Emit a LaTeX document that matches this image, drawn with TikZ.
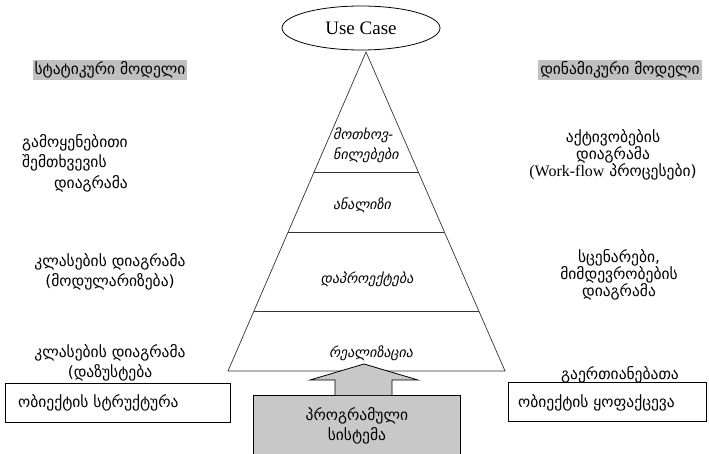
\documentclass[tikz,border=0pt]{standalone}
\usepackage{fontspec}
\setmainfont{Liberation Serif}
\newfontfamily\geo{DejaVu Sans}
\usetikzlibrary{shapes.geometric,calc}
\definecolor{lblgray}{RGB}{192,192,192}
\definecolor{boxgray}{RGB}{200,200,200}
\begin{document}
\begin{tikzpicture}[x=1pt,y=-1pt,
  geo/.style={font=\geo\fontsize{15.5}{20}\selectfont, inner sep=0pt},
  geotight/.style={font=\geo\fontsize{15.5}{17}\selectfont, inner sep=0pt},
  geoit/.style={font=\geo\itshape\fontsize{14}{20}\selectfont, inner sep=0pt},
  hdr/.style={geo, fill=lblgray, inner xsep=2pt, inner ysep=0pt, minimum height=20pt},
  objbox/.style={draw, thick, minimum height=39pt, anchor=west, inner sep=0pt},
  pyr/.style={draw, line width=0.7pt, black!80}]
\useasboundingbox (0,0) rectangle (709,454);

% use case ellipse
\node[ellipse, draw, line width=0.8pt, minimum width=158pt, minimum height=44pt,
      font=\fontsize{19}{21}\selectfont, inner sep=0pt] (uc) at (361,28) {Use Case};

% pyramid
\coordinate (A) at (366,52);
\coordinate (BL) at (228,371);
\coordinate (BR) at (505,371);
\draw[pyr] (BL) -- (A) -- (BR) -- cycle;
\coordinate (l1) at ($(A)!0.376!(BL)$); \coordinate (r1) at ($(A)!0.376!(BR)$);
\coordinate (l2) at ($(A)!0.564!(BL)$); \coordinate (r2) at ($(A)!0.564!(BR)$);
\coordinate (l3) at ($(A)!0.812!(BL)$); \coordinate (r3) at ($(A)!0.812!(BR)$);
\draw[pyr] (l1) -- (r1);
\draw[pyr] (l2) -- (r2);
\draw[pyr] (l3) -- (r3);

\node[geoit, align=left, anchor=west] (req) at (333,145) {მოთხოვ-\\ნილებები};
\node[geoit] (ana) at (362,205) {ანალიზი};
\node[geoit] (des) at (367,279) {დაპროექტება};
\node[geoit] (rea) at (371,353) {რეალიზაცია};

% software system with arrow
\node[draw, thick, fill=boxgray, minimum width=207pt, minimum height=60pt, anchor=north west,
      geo, align=center] (sys) at (253,395) {პროგრამული\\სისტემა};
\draw[thick, fill=boxgray] (335,395) -- (335,380) -- (310,380) -- (364,364) -- (418,380) -- (392,380) -- (392,395);

% headers
\node[hdr] (stat) at (110,70) {სტატიკური მოდელი};
\node[hdr] (dyn) at (620,70) {დინამიკური მოდელი};

% left column
\node[geo, anchor=west] (l1a) at (22,143) {გამოყენებითი};
\node[geo, anchor=west] (l1b) at (22,163) {შემთხვევის};
\node[geo, anchor=east] (l1c) at (128,184) {დიაგრამა};
\node[geo, align=center] (l2) at (110,272) {კლასების დიაგრამა\\(მოდულარიზება)};
\node[geo, align=center] (l3) at (110,363) {კლასების დიაგრამა\\(დაზუსტება};
\node[objbox, minimum width=225pt] (ostr) at (5,402.5) {};
\node[geo, anchor=west] (ostrt) at (18,403) {ობიექტის სტრუქტურა};

% right column
\node[geotight, align=center] (r1) at (613,155) {აქტივობების\\დიაგრამა\\{\rmfamily\fontsize{16}{17}\selectfont(Work-flow} პროცესები)};
\node[geotight, align=center] (r2) at (619,275) {სცენარები,\\მიმდევრობების\\დიაგრამა};
\node[geo] (r3) at (620,375) {გაერთიანებათა};
\node[objbox, minimum width=198pt] (obeh) at (508,402) {};
\node[geo, anchor=west] (obeht) at (518,403) {ობიექტის ყოფაქცევა};
\end{tikzpicture}
\end{document}
